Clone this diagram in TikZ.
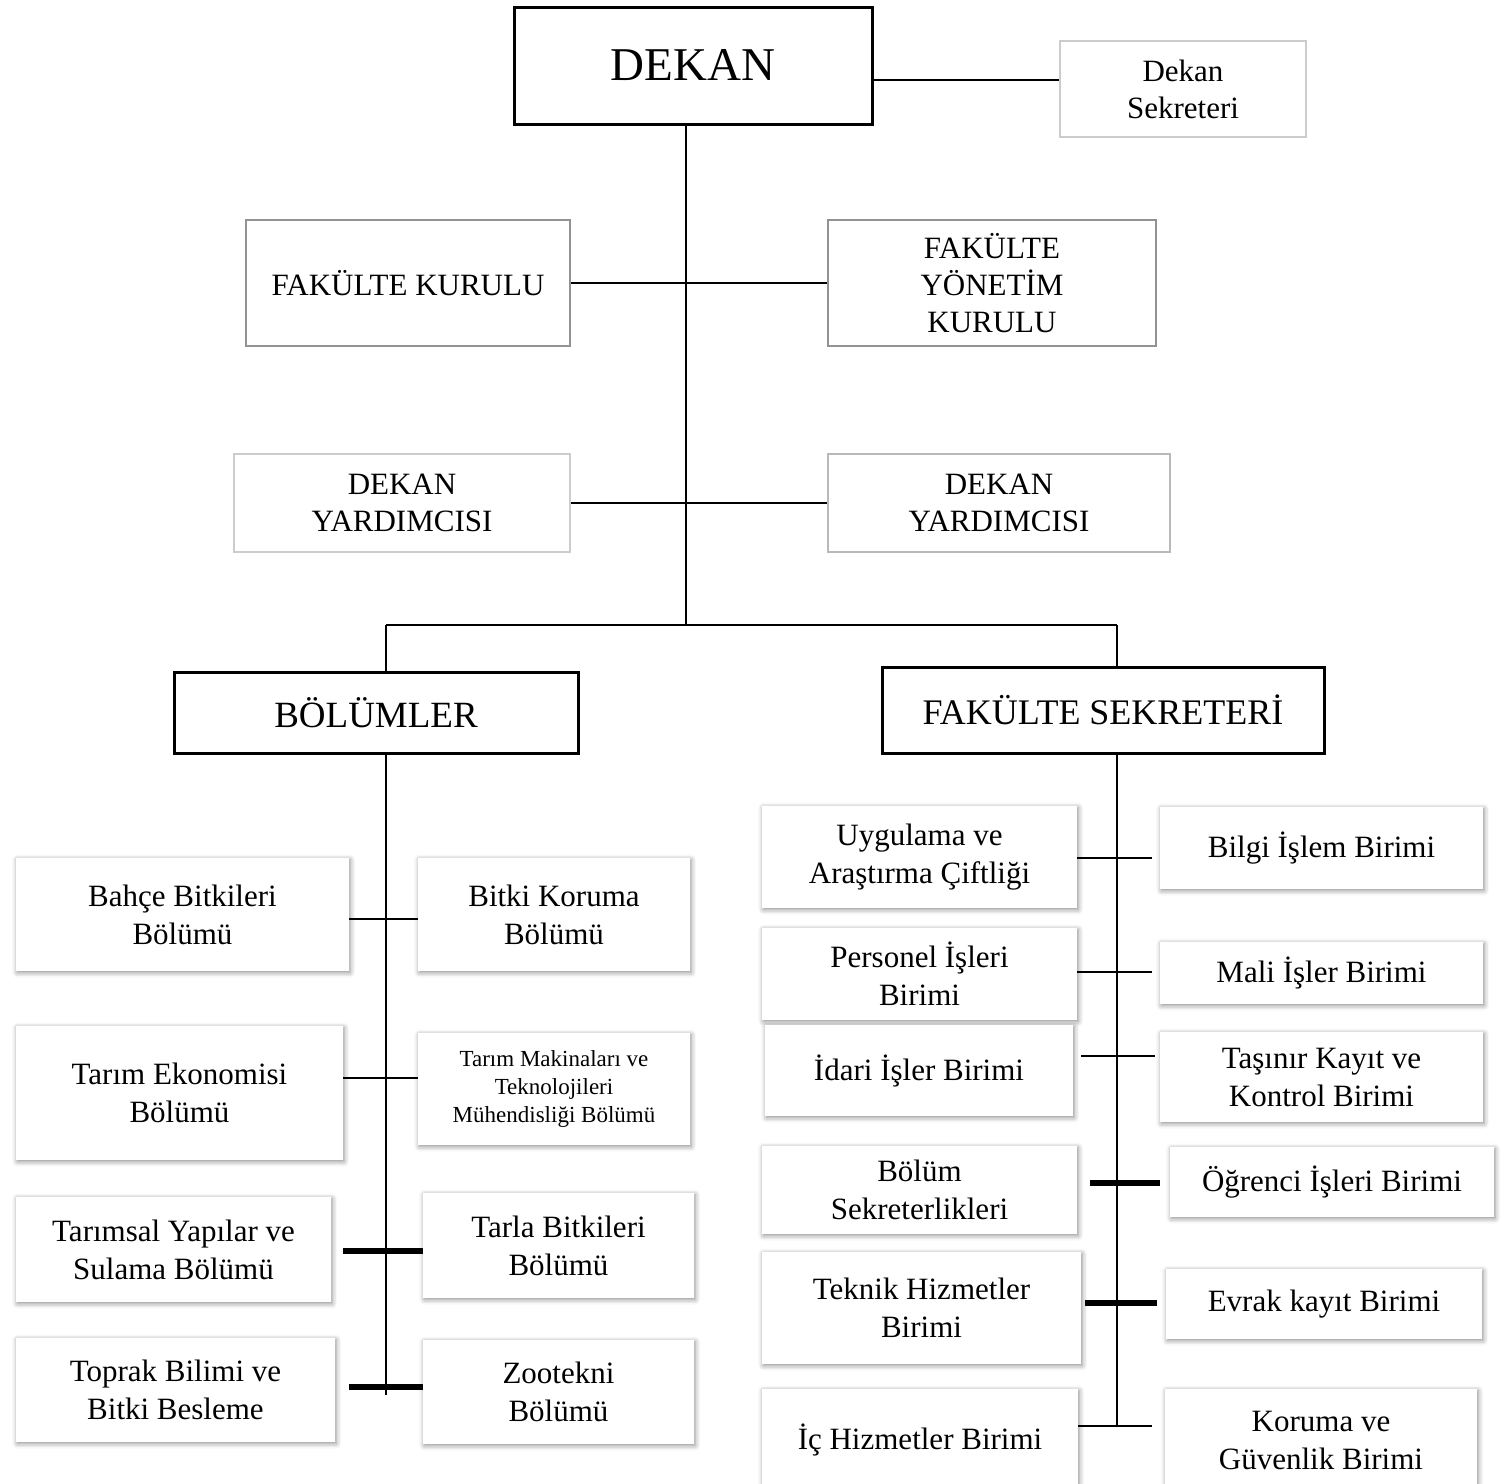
\documentclass[tikz,border=0pt]{standalone}
\usepackage{fontspec}
\setmainfont{Liberation Serif}
\usetikzlibrary{shadows.blur}

\tikzset{
	wh/.style 2 args={minimum width=#1*0.5pt, minimum height=#2*0.5pt},
	headbox/.style={draw=black, line width=1.5pt, inner sep=0pt, align=center},
	plainbox/.style={draw=#1, line width=1.3pt, inner sep=0pt, align=center,
		font=\fontsize{15.5}{18.5}\selectfont},
	unitbox/.style={fill=white, inner sep=0pt, align=center,
		font=\fontsize{15.5}{19}\selectfont,
		blur shadow={shadow xshift=0.6pt, shadow yshift=-0.8pt, shadow blur radius=2.5pt, shadow opacity=45}},
	link/.style={line width=1pt},
	thicklink/.style={line width=2.6pt}
}

\begin{document}
\begin{tikzpicture}[x=0.5pt,y=-0.5pt]
	\useasboundingbox (0,0) rectangle (1512,1484);
	% top levels
	\node[headbox, wh={358}{117}, font=\fontsize{23.5}{28}\selectfont] (dekan) at (693,65.5) {DEKAN};
	\node[plainbox=gray!40, wh={246}{96}] (dsek) at (1183,89) {Dekan\\Sekreteri};
	\node[plainbox=gray!85, wh={324}{126}] (kurul) at (408,283) {FAKÜLTE KURULU};
	\node[plainbox=gray!85, wh={328}{126}] (yonetim) at (992,283) {FAKÜLTE\\YÖNETİM\\KURULU};
	\node[plainbox=gray!40, wh={336}{98}] (dyl) at (402,503) {DEKAN\\YARDIMCISI};
	\node[plainbox=gray!55, wh={342}{98}] (dyr) at (999,503) {DEKAN\\YARDIMCISI};
	\node[headbox, wh={404}{81}, font=\fontsize{18.5}{22}\selectfont] (bolumler) at (376,712.5) {BÖLÜMLER};
	\node[headbox, wh={442}{86}, font=\fontsize{18}{22}\selectfont] (fsek) at (1103,710) {FAKÜLTE SEKRETERİ};

	\coordinate (split) at (686,625);
	\coordinate (ltop) at (386,625);
	\coordinate (rtop) at (1117,625);
	\coordinate (lend) at (386,1395);
	\coordinate (rend) at (1117,1426);

	\draw[link] ([yshift=-7.25pt]dekan.east) -- ([yshift=-7.25pt]dekan.east -| dsek.west);
	\draw[link] (split |- dekan.south) -- (split);
	\draw[link] (kurul.east) -- (yonetim.west);
	\draw[link] (dyl.east) -- (dyr.west);
	\draw[link] (ltop) -- (rtop);
	\draw[link] (ltop) -- (ltop |- bolumler.north);
	\draw[link] (rtop) -- (rtop |- fsek.north);
	\draw[link] (lend |- bolumler.south) -- (lend);
	\draw[link] (rend |- fsek.south) -- (rend);

	% bolumler
	\node[unitbox, wh={333}{113}] (bahce) at (182.5,914.5) {Bahçe Bitkileri\\Bölümü};
	\node[unitbox, wh={272}{113}] (koruma) at (554,914.5) {Bitki Koruma\\Bölümü};
	\node[unitbox, wh={327}{134}] (ekonomi) at (179.5,1093) {Tarım Ekonomisi\\Bölümü};
	\node[unitbox, wh={272}{112}, font=\fontsize{11.5}{14}\selectfont] (makina) at (554,1089) {Tarım Makinaları ve\\Teknolojileri\\Mühendisliği Bölümü};
	\node[unitbox, wh={315}{105}] (yapilar) at (173.5,1249.5) {Tarımsal Yapılar ve\\Sulama Bölümü};
	\node[unitbox, wh={271}{105}] (tarla) at (558.5,1245.5) {Tarla Bitkileri\\Bölümü};
	\node[unitbox, wh={319}{104}] (toprak) at (175.5,1390) {Toprak Bilimi ve\\Bitki Besleme};
	\node[unitbox, wh={271}{104}] (zootekni) at (558.5,1392) {Zootekni\\Bölümü};

	\coordinate (l1) at (386,919);
	\coordinate (l2) at (386,1078);
	\coordinate (l3) at (386,1251);
	\coordinate (l4) at (386,1387);
	\draw[link] (bahce.east |- l1) -- (koruma.west |- l1);
	\draw[link] (ekonomi.east |- l2) -- (makina.west |- l2);
	\draw[thicklink] ([xshift=6pt]yapilar.east |- l3) -- (tarla.west |- l3);
	\draw[thicklink] ([xshift=7pt]toprak.east |- l4) -- (zootekni.west |- l4);

	% birimler
	\node[unitbox, wh={315}{102}] (uygulama) at (919.5,857) {Uygulama ve\\Araştırma Çiftliği};
	\node[unitbox, wh={323}{82}] (bilgi) at (1321.5,848) {Bilgi İşlem Birimi};
	\node[unitbox, wh={315}{92}] (personel) at (919.5,974) {Personel İşleri\\Birimi};
	\node[unitbox, wh={323}{62}] (mali) at (1321.5,973) {Mali İşler Birimi};
	\node[unitbox, wh={308}{91}] (idari) at (919,1070.5) {İdari İşler Birimi};
	\node[unitbox, wh={323}{90}] (tasinir) at (1321.5,1077) {Taşınır Kayıt ve\\Kontrol Birimi};
	\node[unitbox, wh={315}{88}] (bsek) at (919.5,1190) {Bölüm\\Sekreterlikleri};
	\node[unitbox, wh={324}{70}] (ogrenci) at (1332,1182) {Öğrenci İşleri Birimi};
	\node[unitbox, wh={319}{112}] (teknik) at (921.5,1308) {Teknik Hizmetler\\Birimi};
	\node[unitbox, wh={316}{70}] (evrak) at (1324,1304) {Evrak kayıt Birimi};
	\node[unitbox, wh={316}{101}] (ic) at (920,1439.5) {İç Hizmetler Birimi};
	\node[unitbox, wh={312}{102}] (guvenlik) at (1321,1440) {Koruma ve\\Güvenlik Birimi};

	\coordinate (r1) at (1117,858);
	\coordinate (r2) at (1117,972);
	\coordinate (r3) at (1117,1056);
	\coordinate (r4) at (1117,1183);
	\coordinate (r5) at (1117,1303);
	\coordinate (r6) at (1117,1426);
	\draw[link] (uygulama.east |- r1) -- ([xshift=-4pt]bilgi.west |- r1);
	\draw[link] (personel.east |- r2) -- ([xshift=-4pt]mali.west |- r2);
	\draw[link] ([xshift=4pt]idari.east |- r3) -- ([xshift=-2.5pt]tasinir.west |- r3);
	\draw[thicklink] ([xshift=6.5pt]bsek.east |- r4) -- ([xshift=-5pt]ogrenci.west |- r4);
	\draw[thicklink] ([xshift=2pt]teknik.east |- r5) -- ([xshift=-4.5pt]evrak.west |- r5);
	\draw[link] (ic.east |- r6) -- ([xshift=-6.5pt]guvenlik.west |- r6);
\end{tikzpicture}
\end{document}
